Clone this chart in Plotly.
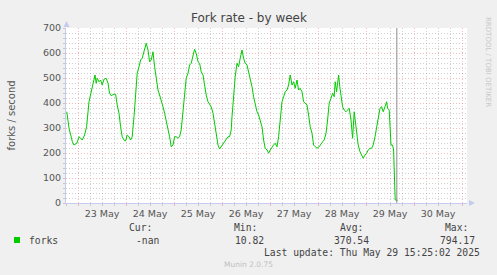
import pandas as pd
import plotly.graph_objects as go

# ---- data (hours relative to 2025-05-23 00:00, forks/second) ----
hours = [
    -5.6, -4.5, -2.8, -2.0, -0.6, 0.5, 1.3, 2.1, 3.3, 4.3, 5.5, 6.6, 7.6, 8.5, 9.1, 9.6, 10.5, 11.3, 12.1, 13.0,
    14.1, 15.0, 15.8, 16.6, 18.0, 18.8, 19.6, 20.5, 21.3, 22.1, 23.0, 23.8,
    24.6, 25.5, 26.3, 27.1, 28.0, 28.8, 29.6, 30.5, 31.3, 32.1, 33.0, 34.1, 35.0, 35.8, 36.6, 37.5, 38.3, 39.1,
    40.0, 40.8, 41.6, 42.5, 43.3, 44.1, 45.0, 45.8, 46.6, 47.5,
    48.3, 49.1, 50.0, 50.8, 51.6, 52.5, 53.3, 54.1, 55.0, 55.8, 56.6, 57.5, 58.3, 59.1, 60.0, 60.8, 61.6, 62.5,
    63.3, 64.1, 65.0, 65.8, 66.6, 67.5, 68.3, 69.1, 70.0, 70.8, 71.6,
    72.5, 73.3, 74.1, 75.0, 75.8, 76.6, 77.0, 77.8, 78.6, 79.5, 80.3, 81.1, 82.0, 82.8, 83.6, 84.5, 85.3, 86.1,
    87.0, 87.8, 88.6, 89.5, 90.3, 91.1, 92.0, 92.8, 93.6, 94.5, 95.3,
    96.1, 97.0, 97.8, 98.6, 99.5, 100.3, 101.1, 102.0, 102.8, 103.6, 104.5, 105.3, 106.1, 107.0, 107.8, 108.6,
    109.5, 110.3, 111.1, 112.0, 112.8, 113.6, 114.5, 115.3, 116.1, 117.0, 117.8, 118.6, 119.5,
    120.6, 121.5, 122.3, 123.1, 124.0, 124.8, 125.6, 126.5, 127.3, 128.1, 128.6, 129.3, 129.8, 130.3, 131.0,
    131.5, 132.3, 133.1, 134.0, 134.8, 135.6, 136.5, 137.3, 138.1, 138.6, 139.3, 140.1, 141.0, 141.8, 142.6, 143.5,
    144.3, 145.1, 146.0, 146.8, 147.6, 148.5, 149.3, 150.1, 151.0, 151.8, 152.6, 153.5, 154.3, 154.8, 155.6,
    156.5, 157.3, 157.8, 158.6, 159.8,
]
forks = [
    365, 299, 245, 232, 239, 265, 259, 252, 272, 305, 405, 445, 492, 512, 479, 499, 485, 492, 472, 495,
    499, 479, 439, 429, 436, 435, 392, 359, 305, 265, 252, 248,
    272, 265, 252, 265, 345, 425, 519, 545, 572, 579, 605, 639, 612, 565, 572, 605, 545, 505,
    452, 432, 412, 385, 359, 332, 305, 265, 225, 232,
    265, 265, 259, 265, 292, 359, 425, 499, 519, 552, 559, 585, 615, 599, 565, 559, 525, 512,
    465, 432, 405, 392, 385, 359, 319, 265, 232, 216, 225,
    232, 245, 252, 265, 265, 292, 345, 439, 505, 559, 545, 579, 612, 579, 559, 552, 525, 505,
    465, 425, 392, 365, 352, 325, 305, 252, 219, 212, 199,
    212, 225, 232, 239, 225, 265, 319, 405, 425, 445, 452, 472, 512, 472, 485, 459,
    492, 452, 459, 445, 405, 399, 392, 352, 305, 279, 232, 225, 219,
    225, 239, 245, 252, 279, 332, 399, 419, 439, 425, 485, 445, 492, 512, 459,
    419, 385, 372, 365, 372, 379, 332, 259, 365, 332, 279, 232, 205, 192, 179, 192,
    199, 212, 219, 219, 232, 265, 299, 332, 379, 385, 365, 385, 405, 379, 372,
    232, 232, 212, 12, 11,
]
series_name = "forks"
legend_heads = ["Cur:", "Min:", "Avg:", "Max:"]
legend_vals = ["-nan", "10.82", "370.54", "794.17"]
title = "Fork rate - by week"
last_update = "Last update: Thu May 29 15:25:02 2025"
now_time = "2025-05-29 15:25"
x_start, x_end = "2025-05-22 18:00", "2025-05-31 02:30"

times = pd.Timestamp("2025-05-23 00:00") + pd.to_timedelta(hours, unit="h")

W, H = 497, 275
L, R, T, B = 66, 467, 28, 203  # plot area in pixels


def px(x):
    return (x - L) / (R - L)


def py(y):
    return (B - y) / (B - T)


fig = go.Figure()
fig.add_trace(go.Scatter(x=times, y=forks, mode="lines", name=series_name,
                         line=dict(color="#00cc00", width=1), showlegend=False))

MAJ = "rgba(230,110,110,0.45)"
MIN = "rgba(150,150,150,0.45)"
AX = "#c4cbef"

fig.update_layout(
    width=W, height=H,
    margin=dict(l=L, r=W - R, t=T, b=H - B),
    paper_bgcolor="#f0f0f0", plot_bgcolor="#ffffff",
    font=dict(family="DejaVu Sans", size=9.5, color="#555555"),
    xaxis=dict(
        type="date", range=[x_start, x_end],
        tick0="2025-05-23", dtick=86400000, ticklabelmode="period", tickformat="%d %b",
        showgrid=True, gridcolor=MAJ, griddash="1px,2px", gridwidth=1,
        ticks="outside", ticklen=2, tickcolor=MAJ,
        minor=dict(dtick=6 * 3600000, tick0="2025-05-23", showgrid=True, gridcolor=MIN,
                   griddash="1px,2px", ticks="outside", ticklen=2, tickcolor=MIN),
        showline=True, linecolor=AX, linewidth=1, zeroline=False,
        tickfont=dict(size=9.5, color="#555555"),
    ),
    yaxis=dict(
        range=[0, 700], dtick=100, tick0=0,
        showgrid=True, gridcolor=MAJ, griddash="1px,2px", gridwidth=1,
        ticks="outside", ticklen=2, tickcolor=MAJ,
        minor=dict(dtick=20, showgrid=True, gridcolor=MIN, griddash="1px,2px",
                   ticks="outside", ticklen=2, tickcolor=MIN),
        showline=True, linecolor=AX, linewidth=1, zeroline=False,
        tickfont=dict(size=9.5, color="#555555"),
    ),
)

# now line
fig.add_shape(type="line", xref="x", yref="y", x0=now_time, x1=now_time, y0=0, y1=700,
              line=dict(color="#8c8c8c", width=1))

# axis arrows
fig.add_shape(type="path", xref="paper", yref="paper",
              path=f"M {px(63.5)} {py(27)} L {px(66.5)} {py(21)} L {px(69.5)} {py(27)} Z",
              fillcolor=AX, line=dict(width=0))
fig.add_shape(type="path", xref="paper", yref="paper",
              path=f"M {px(469)} {py(200)} L {px(475)} {py(203)} L {px(469)} {py(206)} Z",
              fillcolor=AX, line=dict(width=0))

ann = []
ann.append(dict(text=title, x=px(249), y=py(18), xref="paper", yref="paper", showarrow=False,
                font=dict(size=12, color="#444444"), xanchor="center", yanchor="middle"))
ann.append(dict(text="forks / second", x=px(10.5), y=py(115), xref="paper", yref="paper",
                showarrow=False, textangle=-90, font=dict(size=10, color="#555555"),
                xanchor="center", yanchor="middle"))
ann.append(dict(text="RRDTOOL / TOBI OETIKER", x=px(488), y=py(15), xref="paper", yref="paper",
                showarrow=False, textangle=90, font=dict(size=7, color="#c8c8c8"),
                xanchor="center", yanchor="top"))

mono = dict(family="DejaVu Sans Mono", size=9.7, color="#444444")
head_right = [154, 259, 365, 470]
val_right = [161, 266, 371, 477]
for hd, vl, hx, vx in zip(legend_heads, legend_vals, head_right, val_right):
    ann.append(dict(text=hd, x=px(hx), y=py(227), xref="paper", yref="paper", showarrow=False,
                    font=mono, xanchor="right", yanchor="middle"))
    ann.append(dict(text=vl, x=px(vx), y=py(240), xref="paper", yref="paper", showarrow=False,
                    font=mono, xanchor="right", yanchor="middle"))
ann.append(dict(text=series_name, x=px(27), y=py(240), xref="paper", yref="paper", showarrow=False,
                font=mono, xanchor="left", yanchor="middle"))
ann.append(dict(text=last_update, x=px(482), y=py(252), xref="paper", yref="paper", showarrow=False,
                font=mono, xanchor="right", yanchor="middle"))
ann.append(dict(text="Munin 2.0.75", x=px(248), y=py(264), xref="paper", yref="paper",
                showarrow=False, font=dict(family="DejaVu Sans", size=7.5, color="#c0c0c0"),
                xanchor="center", yanchor="middle"))
fig.update_layout(annotations=ann)

fig.add_shape(type="rect", xref="paper", yref="paper",
              x0=px(14), x1=px(20), y0=py(243), y1=py(237),
              fillcolor="#00cc00", line=dict(width=0))

fig.write_html("out.html")
